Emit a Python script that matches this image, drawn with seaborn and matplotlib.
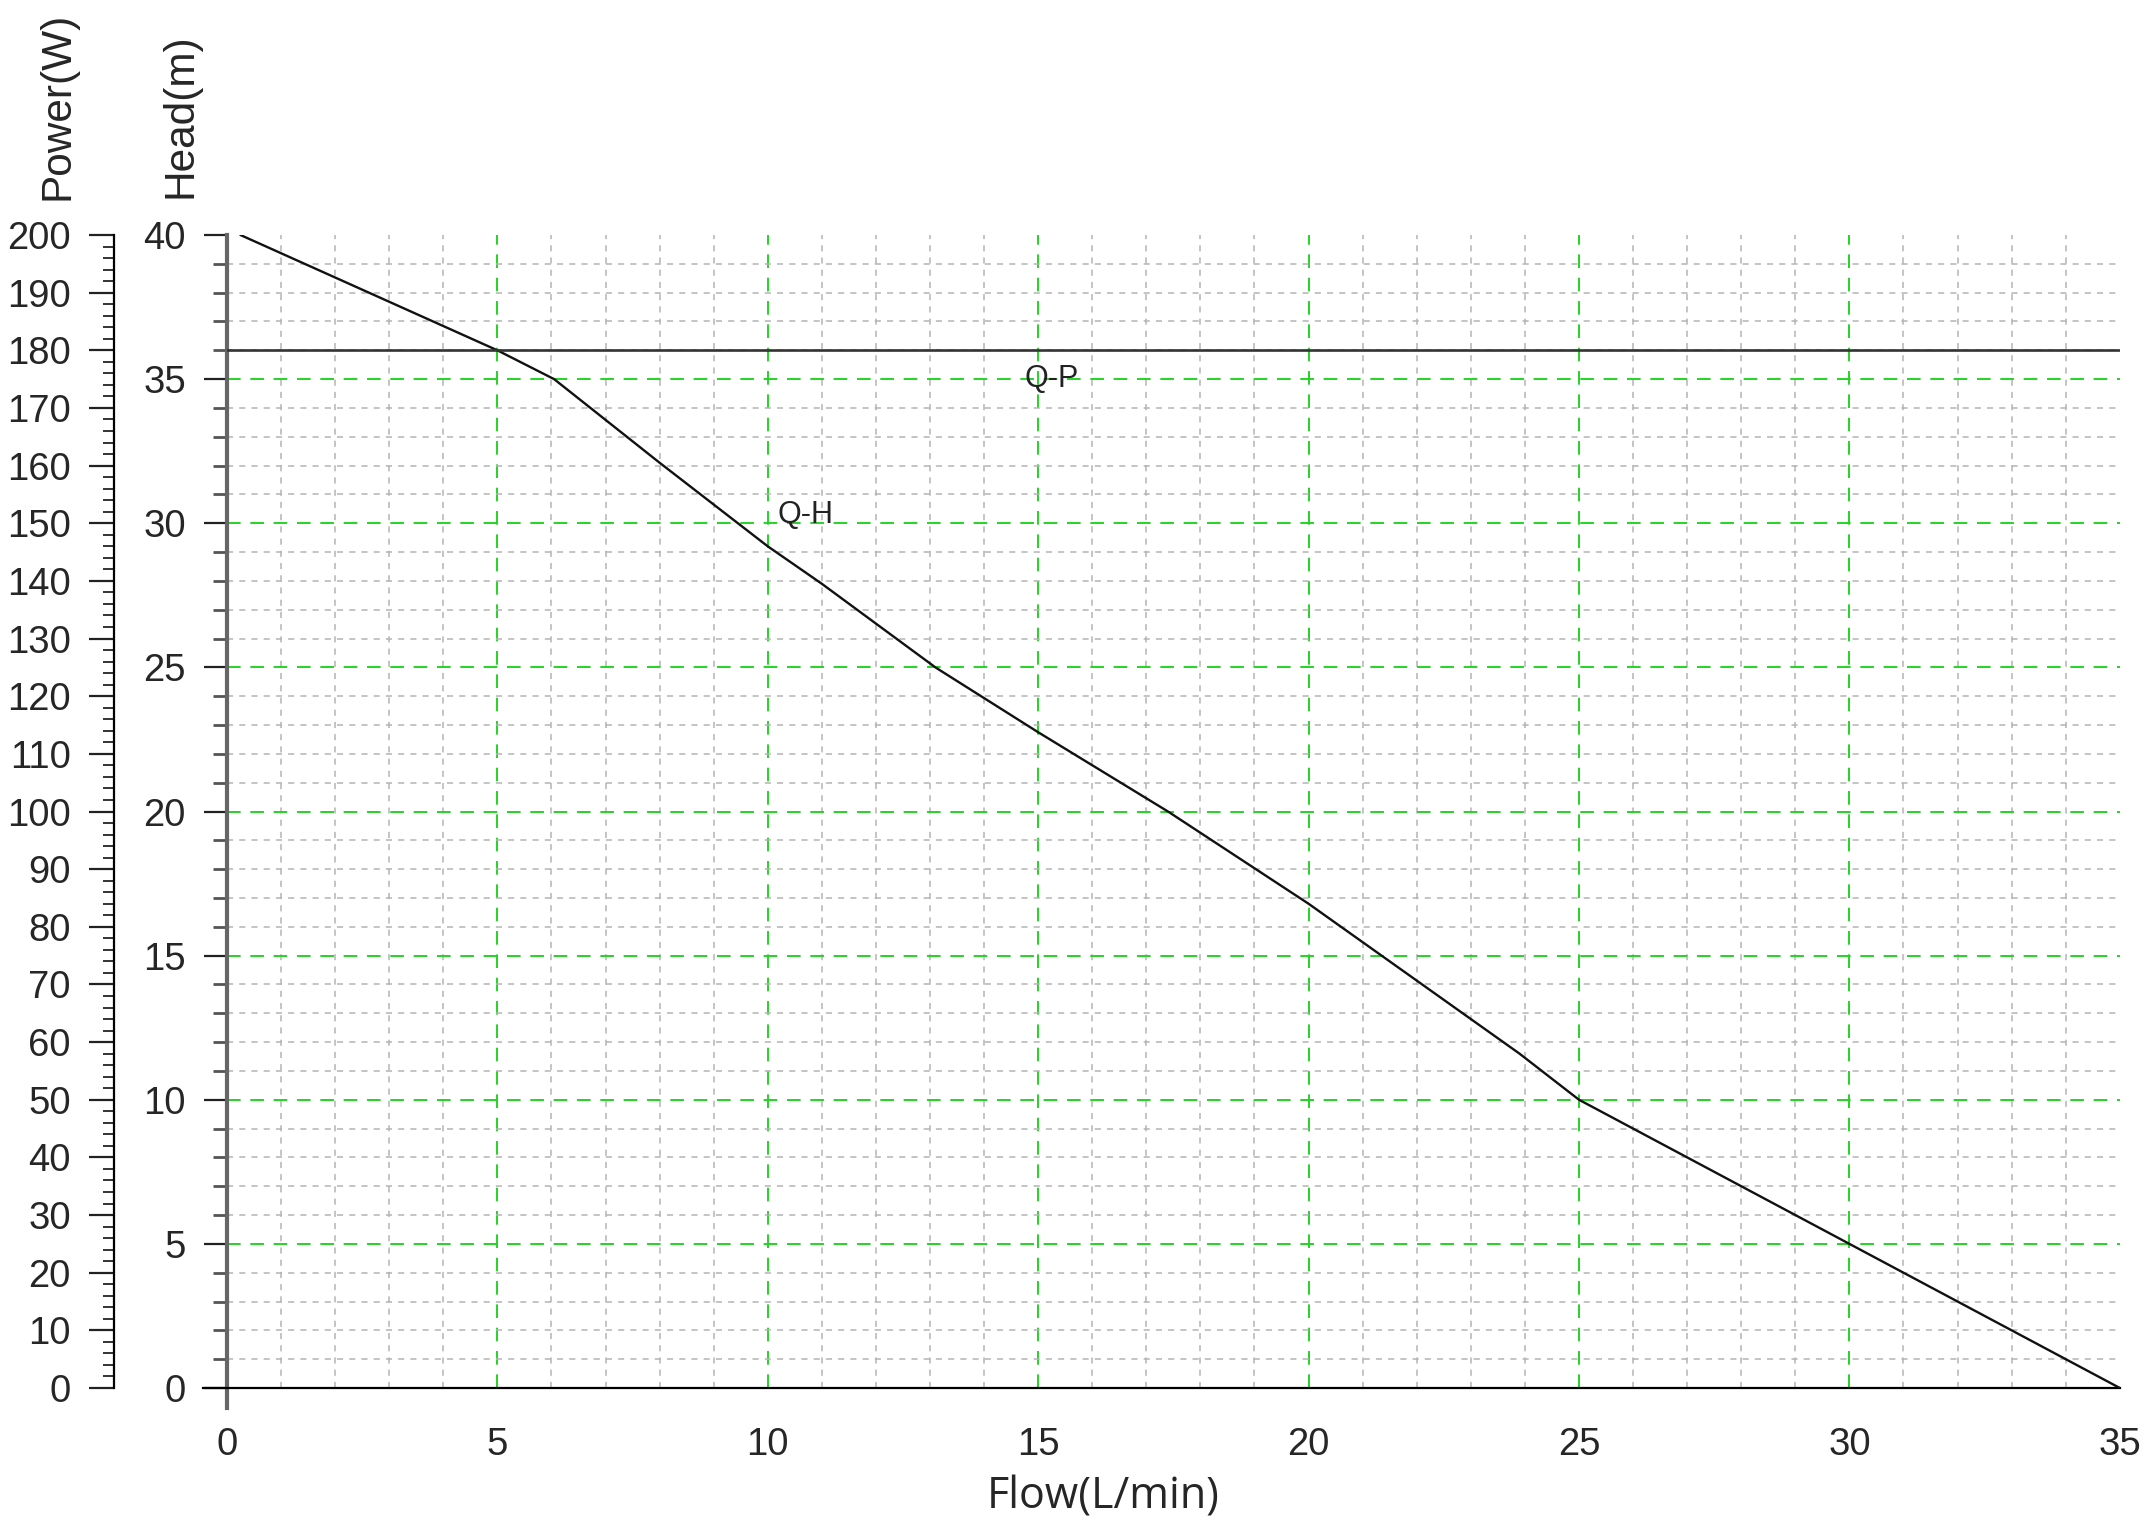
import matplotlib
matplotlib.use("Agg")
import matplotlib.pyplot as plt
import numpy as np
import seaborn as sns

# Q-H curve (flow in L/min, head in m)
qh_flow = [0.25, 5.0, 6.05, 8.0, 10.0, 11.0, 13.1, 15.0, 17.4, 20.0, 21.35, 23.9, 25.0, 30.0, 35.0]
qh_head = [40.0, 36.0, 35.0, 32.1, 29.2, 27.9, 25.0, 22.75, 20.0, 16.8, 15.0, 11.6, 10.0, 5.0, 0.0]

# Q-P curve (flow in L/min, power in W)
qp_flow = [0.0, 35.0]
qp_power = [180.0, 180.0]

flow_ticks = np.arange(0, 36, 5)
head_ticks = np.arange(0, 41, 5)
power_ticks = np.arange(0, 201, 10)

sns.set_style("white")
plt.rcParams["font.family"] = ["Liberation Sans", "DejaVu Sans"]

fig = plt.figure(figsize=(21.51, 15.32), dpi=100)
ax = fig.add_axes([0.1055, 0.094, 0.88, 0.7526])
ax.set_xlim(0, 35)
ax.set_ylim(0, 40)

# grid: gray every 1, green every 5
gray = "#b4b4b4"
green = "#22d422"
for v in np.arange(1, 35):
    is_major = v % 5 == 0
    ax.vlines(v, 0, 40, colors=green if is_major else gray,
              linestyles=(0, (7, 5)) if is_major else (0, (4, 4)),
              linewidth=1.4 if is_major else 1.1, zorder=1)
for h in np.arange(1, 40):
    is_major = h % 5 == 0
    ax.hlines(h, 0, 35, colors=green if is_major else gray,
              linestyles=(0, (7, 5)) if is_major else (0, (4, 4)),
              linewidth=1.4 if is_major else 1.1, zorder=1)

sns.lineplot(x=qh_flow, y=qh_head, ax=ax, color="#111111", linewidth=1.7,
             sort=False, zorder=3)

# spines
for s in ["top", "right"]:
    ax.spines[s].set_visible(False)
ax.spines["left"].set_color("#666666")
ax.spines["left"].set_linewidth(3)
ax.spines["left"].set_bounds(-0.7, 40)
ax.spines["bottom"].set_color("black")
ax.spines["bottom"].set_linewidth(1.6)
ax.spines["bottom"].set_bounds(-0.45, 35)

ax.set_xticks(flow_ticks)
ax.set_xticks(np.arange(0, 36, 1), minor=True)
ax.set_yticks(head_ticks)
ax.set_yticks(np.arange(0, 41, 1), minor=True)
ax.tick_params(axis="x", which="major", direction="out", length=15, width=1.5,
               color="#222222", labelsize=27.5, pad=13)
ax.tick_params(axis="x", which="minor", direction="out", length=8, width=1.3,
               color="#333333")
ax.tick_params(axis="y", which="major", direction="out", length=16.5, width=1.6,
               color="#222222", labelsize=27.5, pad=13)
ax.tick_params(axis="y", which="minor", direction="out", length=10, width=2.0,
               color="#555555")
ax.set_xlabel("")
ax.set_ylabel("")

# power axis on the far left
ax2 = ax.twinx()
ax2.set_ylim(0, 200)
sns.lineplot(x=qp_flow, y=qp_power, ax=ax2, color="#333333", linewidth=1.9)
for s in ["top", "right", "bottom"]:
    ax2.spines[s].set_visible(False)
ax2.spines["left"].set_visible(True)
ax2.spines["left"].set_position(("axes", -0.0597))
ax2.spines["left"].set_color("black")
ax2.spines["left"].set_linewidth(1.6)
ax2.yaxis.set_ticks_position("left")
ax2.set_yticks(power_ticks)
ax2.set_yticks(np.arange(0, 201, 2), minor=True)
ax2.tick_params(axis="y", which="major", direction="out", length=18, width=1.6,
                color="#222222", labelsize=27.5, pad=13)
ax2.tick_params(axis="y", which="minor", direction="out", length=8, width=1.4,
                color="#333333")
ax2.set_ylabel("")
ax2.set_xlim(0, 35)

# curve labels
ax.text(15.25, 35.0, "Q-P", fontsize=22, ha="center", va="center", color="#222222")
ax.text(10.7, 30.3, "Q-H", fontsize=22, ha="center", va="center", color="#222222")

# axis titles
fig.text(57.5 / 2151, 1 - 200 / 1532, "Power(W)", rotation=90, fontsize=30.5,
         ha="center", va="bottom")
fig.text(180 / 2151, 1 - 198 / 1532, "Head(m)", rotation=90, fontsize=30.5,
         ha="center", va="bottom")
fig.text(1103 / 2151, 1 - 1509 / 1532, "Flow(L/min)", fontsize=31,
         family=["Open Sans", "DejaVu Sans"], ha="center", va="baseline")

fig.savefig("out.png", dpi=100, facecolor="white")
plt.close(fig)
